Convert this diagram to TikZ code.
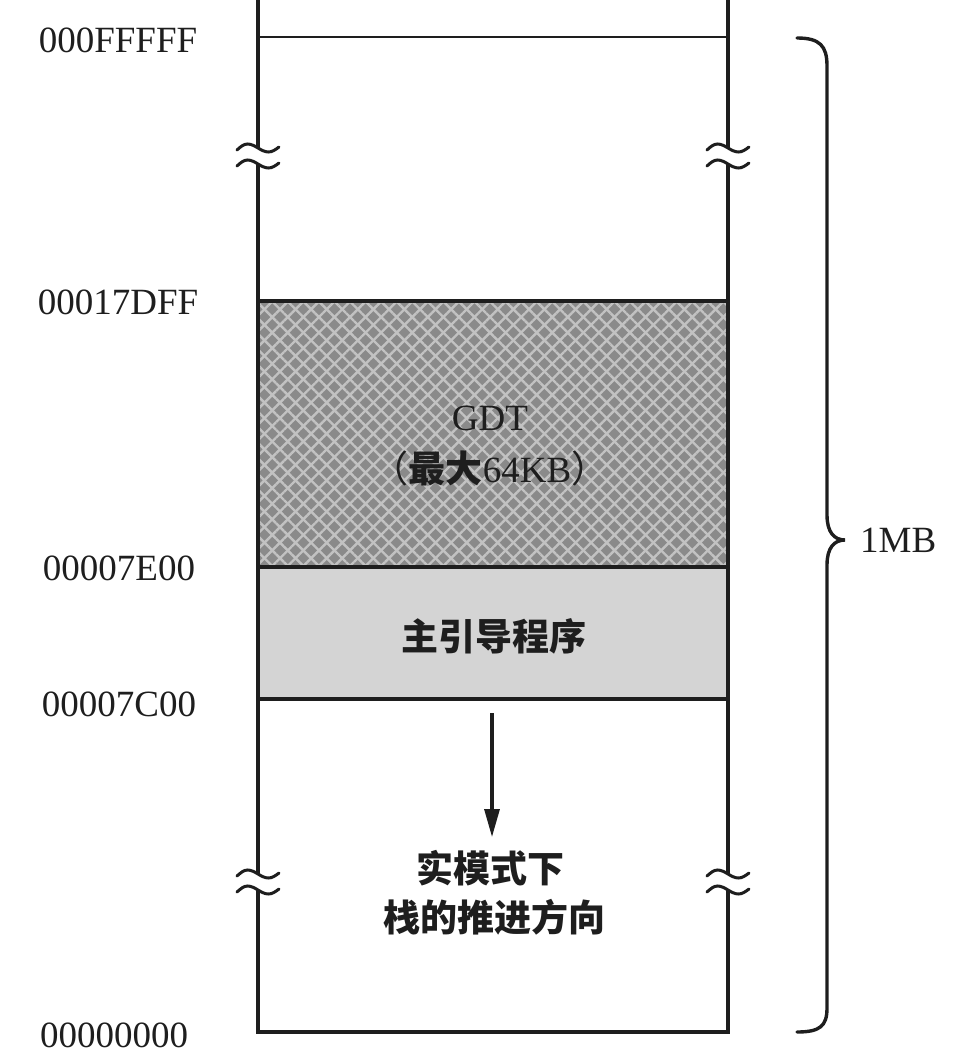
\documentclass[tikz,border=0pt]{standalone}
\usepackage{fontspec}
\setmainfont{Liberation Serif}
\newfontfamily\cjk{Noto Sans CJK SC}
\usetikzlibrary{patterns.meta,arrows.meta}
\definecolor{ink}{HTML}{1E1E1E}
\definecolor{gdtbase}{HTML}{8A8A8A}
\definecolor{gdtline}{HTML}{C2C2C2}
\definecolor{bootfill}{HTML}{D4D4D4}
\tikzset{
  addr/.style={font=\fontsize{37}{40}\selectfont, text=ink, inner sep=0pt, anchor=center},
  cjklabel/.style={font=\fontsize{37}{44}\selectfont\cjk\bfseries, text=ink, inner sep=0pt, anchor=center},
  wall/.style={draw=ink, line width=3.2pt},
  thinwall/.style={draw=ink, line width=2.2pt},
  tildemark/.style={draw=ink, line width=3pt, line cap=round},
  bracestyle/.style={draw=ink, line width=3.4pt, line cap=round},
}
\newcommand\brkmark[2]{%
  \draw[tildemark] (#1-21,#2-8+2) sin (#1-10.5,#2-8-4) cos (#1,#2-8) sin (#1+10.5,#2-8+4) cos (#1+21,#2-8-1);
  \draw[tildemark] (#1-21,#2+8+2) sin (#1-10.5,#2+8-4) cos (#1,#2+8) sin (#1+10.5,#2+8+4) cos (#1+21,#2+8-1);
}
\begin{document}
\begin{tikzpicture}[x=1pt,y=-1pt]
\useasboundingbox (0,0) rectangle (968,1056);
% regions
\fill[gdtbase] (258,301) rectangle (728,567);
\fill[pattern={Lines[angle=45,distance=11pt,line width=2.4pt]}, pattern color=gdtline] (258,301) rectangle (728,567);
\fill[pattern={Lines[angle=-45,distance=11pt,line width=2.4pt]}, pattern color=gdtline] (258,301) rectangle (728,567);
\fill[bootfill] (258,567) rectangle (728,699);
% horizontal lines
\draw[thinwall] (258,37) -- (728,37);
\draw[wall] (258,301) -- (728,301);
\draw[wall] (258,567) -- (728,567);
\draw[wall] (258,699) -- (728,699);
% side walls with breaks
\draw[wall] (258,0) -- (258,148);
\draw[wall] (258,164) -- (258,874);
\draw[wall] (258,890) -- (258,1032) -- (728,1032) -- (728,890);
\draw[wall] (728,874) -- (728,164);
\draw[wall] (728,148) -- (728,0);
\brkmark{258}{156}
\brkmark{728}{156}
\brkmark{258}{882}
\brkmark{728}{882}
% address labels
\node[addr] (a1) at (118,40) {000FFFFF};
\node[addr] (a2) at (118,302) {00017DFF};
\node[addr] (a3) at (119,568) {00007E00};
\node[addr] (a4) at (119,704) {00007C00};
\node[addr] (a5) at (114,1035) {00000000};
% region labels
\node[addr] (gdt) at (490,418) {GDT};
\node[addr] (gdtsz) at (490,468) {{\cjk （}{\cjk\bfseries 最大}64KB{\cjk ）}};
\node[cjklabel] (boot) at (494,636) {主引导程序};
\node[cjklabel] (st1) at (490,868) {实模式下};
\node[cjklabel] (st2) at (494,917) {栈的推进方向};
% stack arrow
\coordinate (as) at (492,713);
\coordinate (ae) at (492,837);
\draw[draw=ink, line width=3.2pt, -{Triangle[length=28pt,width=15pt]}] (as) -- (ae);
% brace
\draw[bracestyle] (797,38) .. controls (820,38) and (827,46) .. (827,66)
  -- (827,515) .. controls (827,532) and (834,540) .. (845,540)
  .. controls (834,540) and (827,548) .. (827,565)
  -- (827,1008) .. controls (827,1026) and (820,1032) .. (797,1032);
\node[addr, anchor=west] (mb) at (860,540) {1MB};
\end{tikzpicture}
\end{document}
